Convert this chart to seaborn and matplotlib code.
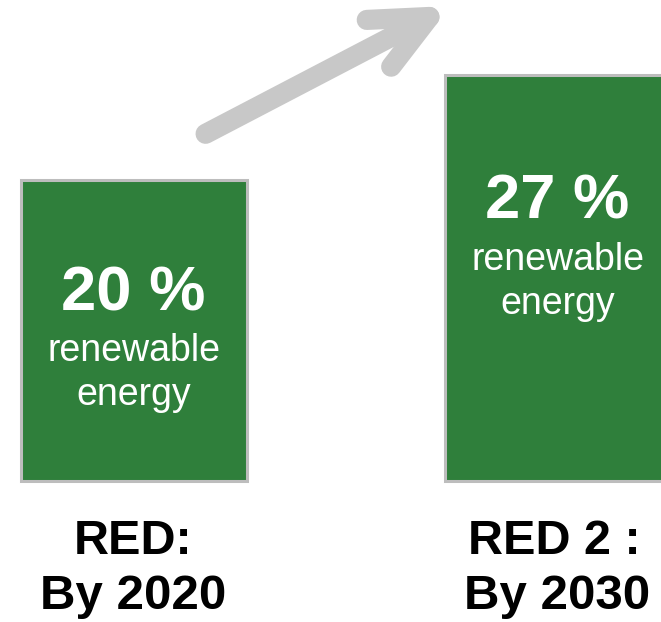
import matplotlib
matplotlib.use("Agg")
import matplotlib.pyplot as plt
import seaborn as sns

# data
targets = ["RED:\nBy 2020", "RED 2 :\nBy 2030"]
shares = [20, 27]
value_labels = ["20 %", "27 %"]
sub_label = "renewable\nenergy"

GREEN = "#2F7F3B"
EDGE = "#BDBDBD"
ARROW = "#C8C8C8"

sns.set_style("white")
plt.rcParams["font.family"] = ["Liberation Sans", "DejaVu Sans"]

fig = plt.figure(figsize=(6.61, 6.22), dpi=100)
ax = fig.add_axes([0, 0, 1, 1])

sns.barplot(x=targets, y=shares, ax=ax, color=GREEN, saturation=1,
            width=0.533, edgecolor=EDGE, linewidth=2.2)

ax.set_xlim(-0.3149, 1.2441)
ax.set_ylim(-9.336, 31.99)
ax.axis("off")

# text inside the bars
pct_y = [11.33, 17.44]
ren_y = [8.01, 14.05]
line_gap = 2.92
for i, (lab, y0, y1) in enumerate(zip(value_labels, pct_y, ren_y)):
    ax.text(i, y0, lab, ha="center", va="baseline", color="white",
            fontsize=45.5, fontweight="bold")
    first, second = sub_label.split("\n")
    ax.text(i, y1, first, ha="center", va="baseline", color="white", fontsize=27)
    ax.text(i, y1 - line_gap, second, ha="center", va="baseline", color="white", fontsize=27)

# labels below the bars
for i, lab in enumerate(targets):
    top, bottom = lab.split("\n")
    ax.text(i - 0.008 * i, -4.82, top, ha="center", va="baseline",
            fontsize=35, fontweight="bold", color="black")
    ax.text(i, -8.47, bottom, ha="center", va="baseline",
            fontsize=35.5, fontweight="bold", color="black")

# growth arrow
ax.annotate("", xy=(0.748, 31.6), xytext=(0.17, 23.1),
            annotation_clip=False,
            arrowprops=dict(arrowstyle="->,head_length=4.1,head_width=1.9",
                            color=ARROW, lw=14.5, shrinkA=0, shrinkB=0,
                            capstyle="round", joinstyle="round"))

fig.savefig("out.png", dpi=100)
